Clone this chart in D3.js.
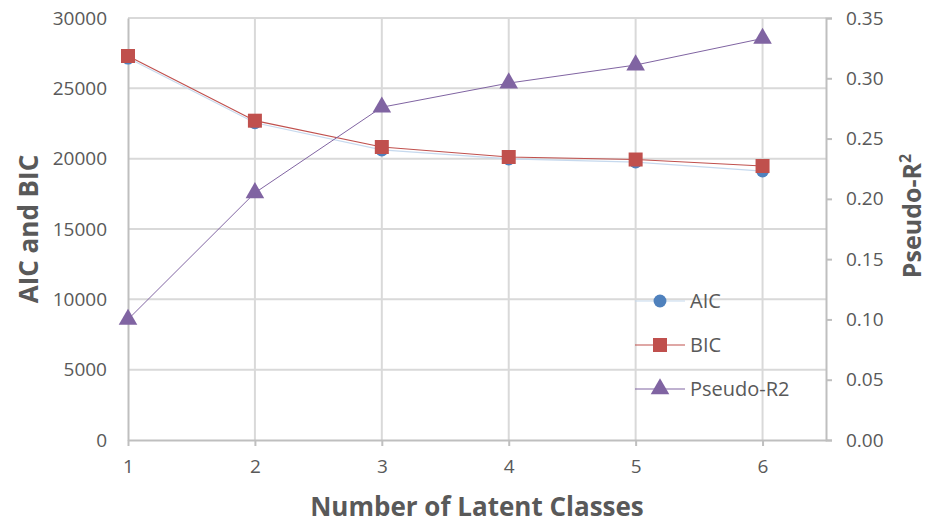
<!DOCTYPE html>
<html><head><meta charset="utf-8">
<script src="https://cdn.jsdelivr.net/npm/d3@7"></script>
<style>body{margin:0;background:#fff;} text{font-family:"Open Sans",sans-serif;fill:#595959;}</style>
</head><body><svg id="c" width="928" height="526"></svg>
<script>
const classes = [1, 2, 3, 4, 5, 6];
const aic = [27150, 22550, 20620, 19980, 19760, 19120];
const bic = [27300, 22700, 20830, 20120, 19940, 19480];
const pseudoR2 = [0.100, 0.205, 0.276, 0.296, 0.311, 0.333];
const leftTicks = [0, 5000, 10000, 15000, 20000, 25000, 30000];
const rightTicks = [0, 0.05, 0.10, 0.15, 0.20, 0.25, 0.30, 0.35];

const svg = d3.select("#c");
const L = 128, R = 826, T = 18, B = 440;
const x = d3.scaleLinear().domain([1, 6.5]).range([L, R]);
const yL = d3.scaleLinear().domain([0, 30000]).range([B, T]);
const yR = d3.scaleLinear().domain([0, 0.35]).range([B, T]);
const grid = "#d9d9d9", axisC = "#bfbfbf";

// gridlines
svg.append("g").selectAll("line").data(leftTicks.slice(1)).join("line")
  .attr("x1", L).attr("x2", R).attr("y1", d => yL(d)).attr("y2", d => yL(d))
  .attr("stroke", grid).attr("stroke-width", 2);
svg.append("g").selectAll("line").data(classes.slice(1)).join("line")
  .attr("x1", d => x(d)).attr("x2", d => x(d)).attr("y1", T).attr("y2", B)
  .attr("stroke", grid).attr("stroke-width", 2);

// left axis
const gl = svg.append("g").attr("transform", `translate(${L},0)`)
  .call(d3.axisLeft(yL).tickValues(leftTicks).tickSize(0).tickPadding(21).tickFormat(d3.format("d")));
gl.select(".domain").attr("stroke", axisC).attr("stroke-width", 2);
gl.selectAll("text").attr("font-size", 19).attr("fill", "#595959").attr("font-family", "Open Sans");

// right axis
const gr = svg.append("g").attr("transform", `translate(${R},0)`)
  .call(d3.axisRight(yR).tickValues(rightTicks).tickSize(6).tickSizeOuter(6).tickPadding(14).tickFormat(d3.format(".2f")));
gr.select(".domain").attr("stroke", axisC).attr("stroke-width", 2);
gr.selectAll(".tick line").attr("stroke", axisC).attr("stroke-width", 2);
gr.selectAll("text").attr("font-size", 19).attr("fill", "#595959").attr("font-family", "Open Sans");

// bottom axis
const gb = svg.append("g").attr("transform", `translate(0,${B})`)
  .call(d3.axisBottom(x).tickValues(classes).tickSize(6).tickSizeOuter(0).tickPadding(14).tickFormat(d3.format("d")));
gb.select(".domain").attr("stroke", axisC).attr("stroke-width", 2);
gb.selectAll(".tick line").attr("stroke", axisC).attr("stroke-width", 2);
gb.selectAll("text").attr("font-size", 19).attr("fill", "#595959").attr("font-family", "Open Sans");

// series
const lineL = vals => d3.line().x((d, i) => x(classes[i])).y(d => yL(d))(vals);
svg.append("path").attr("d", lineL(aic)).attr("fill", "none").attr("stroke", "#c6d9ee").attr("stroke-width", 1.2);
svg.append("path").attr("d", lineL(bic)).attr("fill", "none").attr("stroke", "#c0504d").attr("stroke-width", 1.2);
svg.append("path").attr("d", d3.line().x((d, i) => x(classes[i])).y(d => yR(d))(pseudoR2))
  .attr("fill", "none").attr("stroke", "#8064a2").attr("stroke-width", 1);

const circ = d3.symbol().type(d3.symbolCircle).size(130);
const sq = d3.symbol().type(d3.symbolSquare).size(196);
const tri = d3.symbol().type(d3.symbolTriangle).size(150);

svg.append("g").selectAll("path").data(aic).join("path")
  .attr("d", circ).attr("transform", (d, i) => `translate(${x(classes[i])},${yL(d)})`).attr("fill", "#4f81bd");
svg.append("g").selectAll("path").data(bic).join("path")
  .attr("d", sq).attr("transform", (d, i) => `translate(${x(classes[i])},${yL(d)})`).attr("fill", "#c0504d");
svg.append("g").selectAll("path").data(pseudoR2).join("path")
  .attr("d", tri).attr("transform", (d, i) => `translate(${x(classes[i])},${yR(d)})`).attr("fill", "#8064a2");

// legend
const leg = [
  {name: "AIC", sym: circ, color: "#4f81bd", line: "#c6d9ee", y: 301},
  {name: "BIC", sym: sq, color: "#c0504d", line: "#c0504d", y: 345},
  {name: "Pseudo-R2", sym: tri, color: "#8064a2", line: "#8064a2", y: 389}
];
const lg = svg.append("g");
leg.forEach(e => {
  lg.append("line").attr("x1", 635).attr("x2", 685).attr("y1", e.y).attr("y2", e.y).attr("stroke", e.line).attr("stroke-width", 1.2);
  lg.append("path").attr("d", e.sym).attr("transform", `translate(660,${e.y})`).attr("fill", e.color);
  lg.append("text").attr("x", 690).attr("y", e.y).attr("dy", "0.35em").attr("font-size", 20).text(e.name);
});

// titles
svg.append("text").attr("x", 477).attr("y", 516).attr("text-anchor", "middle")
  .attr("font-size", 26).attr("font-weight", "bold").text("Number of Latent Classes");
svg.append("text").attr("transform", "translate(38,229) rotate(-90)").attr("text-anchor", "middle")
  .attr("font-size", 26).attr("font-weight", "bold").text("AIC and BIC");
const rt = svg.append("text").attr("transform", "translate(921,216) rotate(-90)").attr("text-anchor", "middle")
  .attr("font-size", 25).attr("font-weight", "bold");
rt.append("tspan").text("Pseudo-R");
rt.append("tspan").attr("font-size", 16).attr("dy", -10).text("2");
</script></body></html>
